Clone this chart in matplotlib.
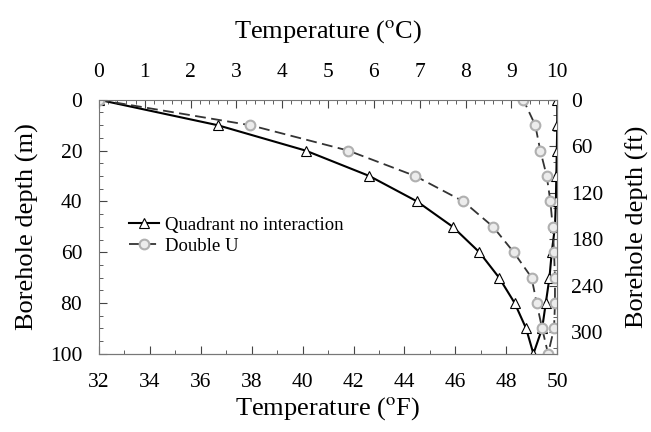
import numpy as np
import matplotlib.pyplot as plt
from matplotlib.ticker import MultipleLocator

plt.rcParams['font.family'] = ['Liberation Serif', 'DejaVu Serif']
plt.rcParams['mathtext.fontset'] = 'stix'

# depth (m) and temperature (C) along the loop: down leg then up leg
depth_down = [0, 10, 20, 30, 40, 50, 60, 70, 80, 90, 100]
quad_down = [0, 2.59, 4.51, 5.90, 6.94, 7.72, 8.30, 8.73, 9.07, 9.32, 9.48]
quad_up = [9.48, 9.67, 9.75, 9.83, 9.88, 9.95, 9.97, 9.98, 9.99, 10.0, 10.0]
dblu_down = [0, 3.30, 5.44, 6.90, 7.95, 8.60, 9.05, 9.44, 9.55, 9.67, 9.80]
dblu_up = [9.80, 9.93, 9.95, 9.95, 9.93, 9.90, 9.85, 9.77, 9.63, 9.52, 9.26]
depth_up = depth_down[::-1]

quad_t = quad_down + quad_up[1:]
quad_d = depth_down + depth_up[1:]
dblu_t = dblu_down + dblu_up[1:]
dblu_d = depth_down + depth_up[1:]

fig = plt.figure(figsize=(6.51, 4.32), dpi=100)
ax = fig.add_axes([0.152, 0.181, 0.704, 0.588])

ax.plot(quad_t, quad_d, color='black', lw=1.5, marker='^', ms=6.5,
        mfc='white', mec='black', mew=0.8, label='Quadrant no interaction')
ax.plot(dblu_t, dblu_d, color='#333333', lw=1.3, ls=(0, (6, 3)), marker='o',
        ms=7, mfc='#ececec', mec='#b0b0b0', mew=1.5, label='Double U')

ax.set_xlim(0, 10)
ax.set_ylim(100, 0)

# top axis in Celsius
ax.xaxis.set_ticks_position('top')
ax.xaxis.set_label_position('top')
ax.set_xticks(range(0, 11))
ax.xaxis.set_minor_locator(MultipleLocator(0.2))
ax.set_xlabel(r'Temperature ($^{\rm o}$C)', fontsize=19, labelpad=18)

ax.set_yticks(range(0, 101, 20))
ax.yaxis.set_minor_locator(MultipleLocator(5))
ax.set_ylabel('Borehole depth (m)', fontsize=19, labelpad=8)

sec_x = ax.secondary_xaxis('bottom', functions=(lambda c: c * 1.8 + 32,
                                                lambda f: (f - 32) / 1.8))
sec_x.set_xticks(range(32, 51, 2))
sec_x.xaxis.set_minor_locator(MultipleLocator(1))
sec_x.set_xlabel(r'Temperature ($^{\rm o}$F)', fontsize=19, labelpad=2)

sec_y = ax.secondary_yaxis('right', functions=(lambda m: m * 3.28084,
                                               lambda ft: ft / 3.28084))
sec_y.set_yticks(range(0, 301, 60))
sec_y.yaxis.set_minor_locator(MultipleLocator(20))
sec_y.set_ylabel('Borehole depth (ft)', fontsize=19, labelpad=16)

for a in (ax, sec_x, sec_y):
    a.tick_params(which='both', direction='in', labelsize=15.5, color='#444444')
    a.tick_params(which='major', length=6)
    a.tick_params(which='minor', length=3)
ax.tick_params(axis='x', pad=13)
ax.tick_params(axis='y', pad=12)
sec_x.tick_params(pad=14)
sec_y.tick_params(pad=10)

for s in ax.spines.values():
    s.set_color('#777777')
for s in sec_x.spines.values():
    s.set_color('#777777')
for s in sec_y.spines.values():
    s.set_color('#777777')

ax.legend(loc='upper left', bbox_to_anchor=(0.05, 0.57), frameon=False,
          fontsize=13.5, handlelength=1.6, handletextpad=0.3, labelspacing=0.2,
          borderaxespad=0)

fig.savefig('out.png', dpi=100)
